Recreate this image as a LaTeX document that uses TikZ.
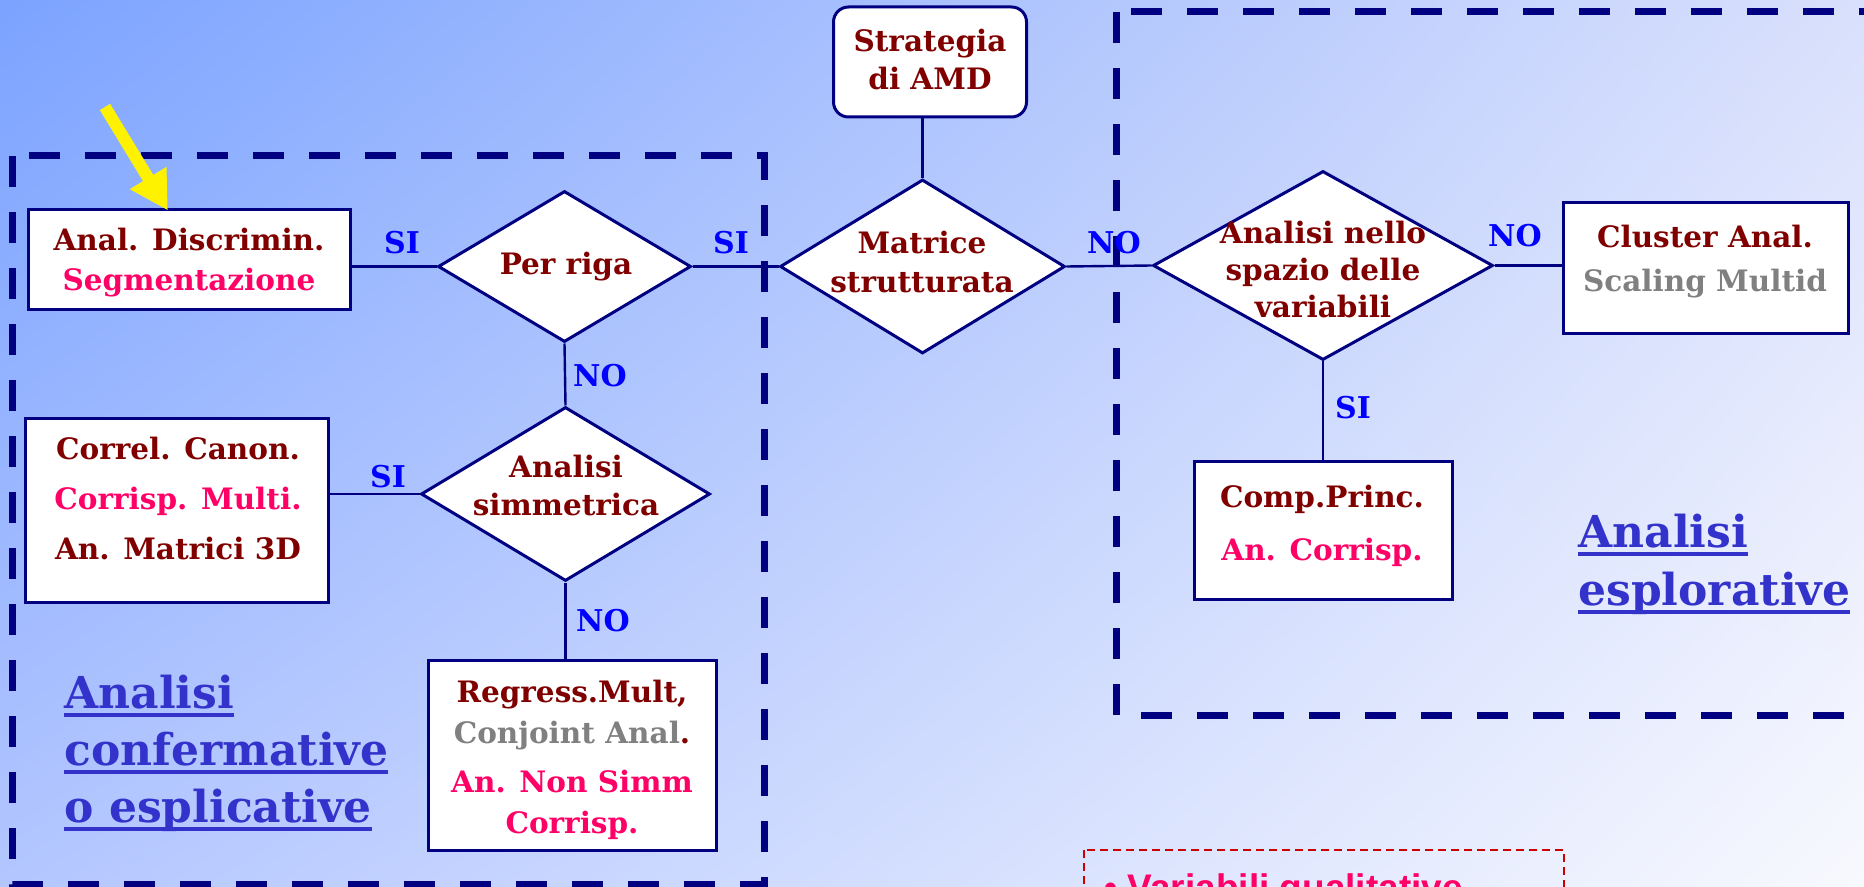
\documentclass[tikz,border=0pt]{standalone}
\usepackage{fontspec}
\setmainfont{DejaVu Serif}
\newfontfamily\arialf{Liberation Sans}
\usetikzlibrary{shapes.geometric,arrows.meta,calc,shadings}
\definecolor{navy}{HTML}{000080}
\definecolor{maroon}{HTML}{800000}
\definecolor{hotpink}{HTML}{FF0066}
\definecolor{midgray}{HTML}{808080}
\definecolor{lblue}{HTML}{0000FF}
\definecolor{bigblue}{HTML}{3333CC}
\definecolor{redline}{HTML}{CC0000}
\definecolor{bgA}{RGB}{123,163,255}
\definecolor{bgB}{RGB}{217,224,252}
\definecolor{bgC}{RGB}{179,198,255}
\definecolor{bgD}{RGB}{248,249,254}
\newcommand\bk{\rmfamily\bfseries}
\newcommand\fsz[2]{\fontsize{#1}{#2}\selectfont}
\newcommand\myul[1]{\setbox0\hbox{#1}\rlap{\rule[-4.5pt]{\wd0}{2pt}}\box0}
\newcommand\mr[1]{\textcolor{maroon}{#1}}
\newcommand\pk[1]{\textcolor{hotpink}{#1}}
\newcommand\gy[1]{\textcolor{midgray}{#1}}
\begin{document}
\begin{tikzpicture}[x=0.5pt,y=-0.5pt,
  boxnode/.style={draw=navy, line width=1.5pt, fill=white, rectangle, inner sep=0pt},
  dianode/.style={draw=navy, line width=1.5pt, fill=white, diamond, inner sep=0pt},
  txt/.style={align=center, font=\bk\fsz{14.75}{20}, inner sep=0pt},
  lab/.style={text=lblue, font=\bk\fsz{15}{19}, inner sep=0pt},
  big/.style={text=bigblue, font=\bk\fsz{22}{28.5}, inner sep=0pt, anchor=base west},
  conn/.style={draw=navy, line width=1.2pt},
  bigdash/.style={draw=navy, line width=3.5pt, dash pattern=on 15.5pt off 12.5pt}]
\shade[upper left=bgA, upper right=bgB, lower left=bgC, lower right=bgD] (0,0) rectangle (1864,887);
\useasboundingbox (0,0) rectangle (1864,887);
\clip (0,0) rectangle (1864,887);

% dashed regions
\draw[bigdash] (12,156) rectangle (764,884);
\draw[bigdash] (1116,12) rectangle (1920,715);
\draw[draw=redline, line width=1pt, dash pattern=on 4pt off 2.5pt] (1084,850) rectangle (1564,980);
\node[anchor=base west, text=hotpink, inner sep=0pt, font=\arialf\bfseries\fsz{18.5}{22}] (varq) at (1104,900) {\textbullet\ Variabili qualitative};

% boxes
\node[boxnode, minimum width=161pt, minimum height=50pt] (disc) at (189,260) {};
\node[boxnode, rounded corners=7.5pt, minimum width=96.5pt, minimum height=55pt] (strat) at (930,62) {};
\node[boxnode, minimum width=142.5pt, minimum height=65.5pt] (clus) at (1705.5,268.5) {};
\node[boxnode, minimum width=151.5pt, minimum height=91.5pt] (correl) at (176.5,510.5) {};
\node[boxnode, minimum width=144pt, minimum height=95pt] (reg) at (572,755) {};
\node[boxnode, minimum width=129pt, minimum height=68.5pt] (comp) at (1323,530.5) {};

% diamonds
\node[dianode, minimum width=126.5pt, minimum height=75.5pt] (pr) at (564.5,266.5) {};
\node[dianode, minimum width=142.5pt, minimum height=87pt] (mat) at (922.5,266.5) {};
\node[dianode, minimum width=170pt, minimum height=94.5pt] (ans) at (1323,265.5) {};
\node[dianode, minimum width=144.5pt, minimum height=87pt] (asim) at (565.5,494) {};

% connectors
\draw[conn] (pr.west) -- (pr.west -| disc.east);
\draw[conn] (pr.east) -- (mat.west);
\draw[conn] (pr.south) -- (asim.north);
\draw[conn] (asim.west) -- (asim.west -| correl.east);
\draw[conn] (asim.south) -- (asim.south |- reg.north);
\draw[conn] (strat.south -| mat.north) -- (mat.north);
\draw[conn] (mat.east) -- (ans.west);
\draw[conn] (ans.east) -- (ans.east -| clus.west);
\draw[conn] (ans.south) -- (comp.north);

% texts
\node[txt] (tdisc) at (189,263) {\mr{Anal. Discrimin.}\\\pk{Segmentazione}};
\node[txt, font=\bk\fsz{14.75}{19}] (tstrat) at (930,60) {\mr{Strategia}\\\mr{di AMD}};
\node[txt, font=\bk\fsz{14.75}{22}] (tclus) at (1705,262) {\mr{Cluster Anal.}\\\gy{Scaling Multid}};
\node[txt, font=\bk\fsz{14.75}{25}] (tcorrel) at (178,499) {\mr{Correl. Canon.}\\\pk{Corrisp. Multi.}\\\mr{An. Matrici 3D}};
\node[txt, font=\bk\fsz{14.75}{20.5}] (treg) at (572,760) {\mr{Regress.Mult,}\\\gy{Conjoint Anal}\mr{.}\\[4pt]\pk{An. Non Simm}\\\pk{Corrisp.}};
\node[txt, font=\bk\fsz{14.75}{26.5}] (tcomp) at (1322,526) {\mr{Comp.Princ.}\\\pk{An. Corrisp.}};
\node[txt] (tpr) at (566,266.5) {\mr{Per riga}};
\node[txt, font=\bk\fsz{14.75}{19.5}] (tmat) at (922,262.5) {\mr{Matrice}\\\mr{strutturata}};
\node[txt, font=\bk\fsz{14.75}{18.5}] (tans) at (1323,270) {\mr{Analisi nello}\\\mr{spazio delle}\\\mr{variabili}};
\node[txt, font=\bk\fsz{14.75}{19}] (tasim) at (566,486) {\mr{Analisi}\\\mr{simmetrica}};

% SI / NO labels
\node[lab] (l1) at (402,243) {SI};
\node[lab] (l2) at (731,243) {SI};
\node[lab] (l3) at (600,376) {NO};
\node[lab] (l4) at (388,477) {SI};
\node[lab] (l5) at (603,621) {NO};
\node[lab] (l6) at (1114,243) {NO};
\node[lab] (l7) at (1515,236) {NO};
\node[lab] (l8) at (1353,408) {SI};

% big titles
\node[big] (c1) at (64,708) {\myul{Analisi}};
\node[big] (c2) at (64,765) {\myul{confermative}};
\node[big] (c3) at (64,822) {\myul{o esplicative}};
\node[big] (e1) at (1578,547) {\myul{Analisi}};
\node[big] (e2) at (1578,605) {\myul{esplorative}};

% yellow arrow
\coordinate (ys) at (105,107);
\draw[yellow, line width=6pt, -{Triangle[width=20pt,length=19pt]}] (ys) -- ($(disc.north west)!0.435!(disc.north east)+(0,2)$);
\end{tikzpicture}
\end{document}
